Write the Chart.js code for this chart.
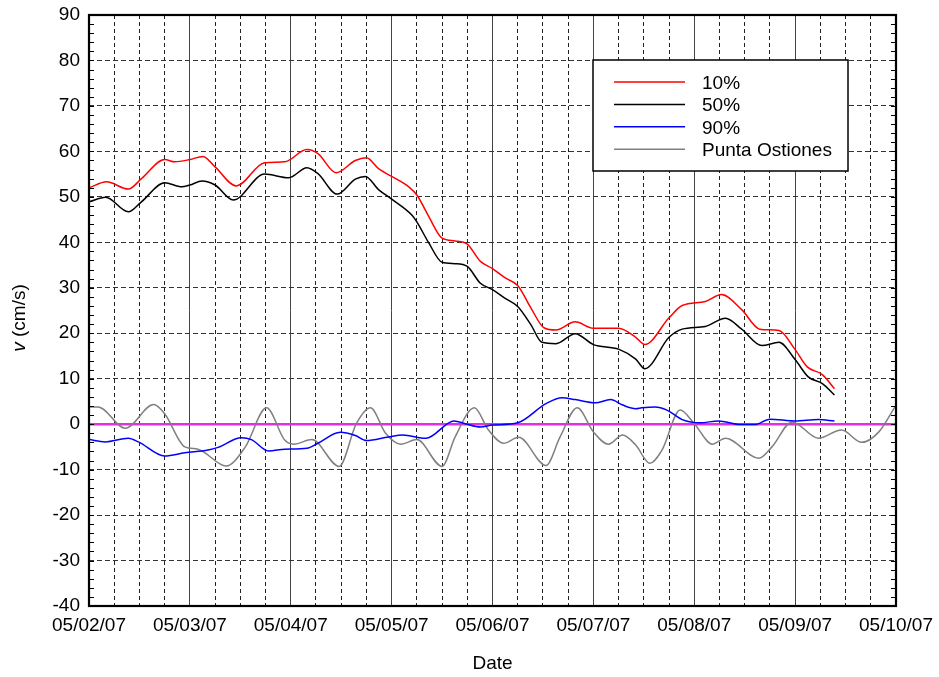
<!DOCTYPE html>
<html>
<head>
<meta charset="utf-8">
<script src="https://cdn.jsdelivr.net/npm/chart.js@4.4.1/dist/chart.umd.min.js"></script>
<style>
  html, body { margin: 0; padding: 0; background: #fff; }
</style>
</head>
<body>
<canvas id="chart" width="939" height="677"></canvas>
<script>
// x values are days after 05/02/07
const dateLabels = ['05/02/07', '05/03/07', '05/04/07', '05/05/07', '05/06/07', '05/07/07', '05/08/07', '05/09/07', '05/10/07'];

const p10Days = [0, 0.175, 0.39, 0.52, 0.75, 0.85, 1.0, 1.13, 1.25, 1.46, 1.74, 1.94, 2.16, 2.27, 2.45, 2.64, 2.75, 2.87, 3.0, 3.17, 3.25, 3.37, 3.5, 3.63, 3.75, 3.88, 4.0, 4.13, 4.25, 4.38, 4.51, 4.63, 4.82, 5.0, 5.25, 5.42, 5.51, 5.75, 5.88, 6.11, 6.27, 6.47, 6.65, 6.84, 7.0, 7.12, 7.27, 7.39];
const p10Values = [52.0, 53.3, 51.7, 54.0, 58.2, 57.7, 58.2, 58.9, 56.6, 52.4, 57.5, 57.7, 60.4, 59.5, 55.3, 58.0, 58.6, 56.2, 54.5, 52.2, 50.4, 45.6, 40.9, 40.3, 39.6, 35.8, 34.2, 32.1, 30.5, 25.6, 21.2, 20.7, 22.5, 21.1, 21.1, 19.1, 17.5, 23.4, 26.1, 27.0, 28.5, 25.2, 20.9, 20.6, 16.4, 12.6, 10.9, 7.8];

const p50Days = [0, 0.165, 0.39, 0.52, 0.75, 0.92, 1.0, 1.12, 1.25, 1.43, 1.74, 1.98, 2.16, 2.27, 2.46, 2.64, 2.74, 2.87, 3.0, 3.2, 3.25, 3.37, 3.5, 3.63, 3.75, 3.88, 4.0, 4.13, 4.25, 4.38, 4.49, 4.63, 4.82, 5.0, 5.25, 5.42, 5.51, 5.75, 5.88, 6.11, 6.31, 6.47, 6.67, 6.84, 7.0, 7.13, 7.27, 7.39];
const p50Values = [48.9, 49.9, 46.7, 48.9, 53.1, 52.2, 52.6, 53.5, 52.6, 49.3, 55.0, 54.2, 56.4, 55.1, 50.6, 53.9, 54.5, 51.6, 49.5, 46.0, 44.5, 39.8, 35.6, 35.3, 34.7, 31.0, 29.6, 27.6, 25.9, 21.9, 18.0, 17.7, 19.9, 17.5, 16.5, 14.3, 12.2, 19.1, 20.9, 21.5, 23.3, 20.9, 17.3, 18.0, 14.2, 10.4, 8.9, 6.4];

const p90Days = [0, 0.16, 0.39, 0.49, 0.75, 0.95, 1.18, 1.28, 1.51, 1.61, 1.78, 1.94, 2.16, 2.27, 2.49, 2.64, 2.75, 2.97, 3.11, 3.34, 3.62, 3.73, 3.88, 4.0, 4.25, 4.53, 4.69, 4.82, 5.02, 5.17, 5.29, 5.42, 5.48, 5.61, 5.73, 5.88, 6.06, 6.24, 6.46, 6.6, 6.75, 7.0, 7.23, 7.39];
const p90Values = [-3.4, -3.9, -3.1, -3.9, -7.0, -6.3, -5.7, -5.1, -3.0, -3.4, -5.9, -5.5, -5.3, -4.2, -1.8, -2.5, -3.6, -2.8, -2.4, -3.1, 0.7, 0.1, -0.6, -0.2, 0.3, 4.5, 5.8, 5.4, 4.7, 5.4, 4.2, 3.4, 3.6, 3.8, 3.1, 1.0, 0.3, 0.7, -0.1, -0.1, 1.1, 0.7, 1.0, 0.7];

const ostionesDays = [0, 0.09, 0.36, 0.64, 0.75, 0.95, 1.08, 1.36, 1.55, 1.76, 1.94, 2.03, 2.21, 2.48, 2.65, 2.79, 2.94, 3.09, 3.25, 3.5, 3.63, 3.82, 3.96, 4.11, 4.26, 4.53, 4.67, 4.84, 5.0, 5.15, 5.29, 5.42, 5.56, 5.68, 5.86, 6.0, 6.18, 6.31, 6.64, 6.77, 6.97, 7.23, 7.46, 7.66, 7.83, 8.0];
const ostionesValues = [3.8, 3.8, -0.9, 4.3, 2.3, -5.0, -5.5, -9.2, -5.0, 3.6, -3.5, -4.4, -3.4, -9.3, 0.1, 3.6, -2.0, -4.4, -3.4, -9.3, -2.8, 3.6, -1.3, -4.2, -2.9, -9.1, -2.8, 3.6, -1.7, -4.4, -2.4, -4.6, -8.6, -5.7, 3.1, 0.1, -4.4, -3.1, -7.5, -5.0, 0.5, -3.1, -1.3, -4.0, -1.7, 4.2];

const zeroDays = [0, 8];
const zeroValues = [0, 0];

const seriesNames = ['10%', '50%', '90%', 'Punta Ostiones'];

function points(xs, ys) {
    return xs.map((x, i) => ({ x: x, y: ys[i] }));
}

Chart.defaults.font.family = '"Liberation Sans", Arial, sans-serif';
Chart.defaults.font.size = 19;
Chart.defaults.color = '#000';

const framePlugin = {
    id: 'frame',
    afterDraw(chart) {
        const { ctx, chartArea: a, scales } = chart;
        ctx.save();

        // inward minor ticks on both y borders
        ctx.strokeStyle = '#000';
        ctx.lineWidth = 1;
        for (let v = scales.y.min; v <= scales.y.max; v += 2) {
            const py = Math.round(scales.y.getPixelForValue(v)) + 0.5;
            ctx.beginPath();
            ctx.moveTo(a.left, py);
            ctx.lineTo(a.left + 5, py);
            ctx.moveTo(a.right, py);
            ctx.lineTo(a.right - 5, py);
            ctx.stroke();
        }

        // box round the plot
        ctx.lineWidth = 2.2;
        ctx.strokeRect(a.left, a.top, a.right - a.left, a.bottom - a.top);

        // legend box
        const lx = 593, ly = 60, lw = 255, lh = 111;
        ctx.fillStyle = '#fff';
        ctx.fillRect(lx, ly, lw, lh);
        ctx.lineWidth = 1.5;
        ctx.strokeStyle = '#000';
        ctx.strokeRect(lx, ly, lw, lh);
        ctx.font = '19px "Liberation Sans", Arial, sans-serif';
        ctx.textBaseline = 'alphabetic';
        ctx.textAlign = 'left';
        chart.data.datasets.slice(0, 4).forEach((ds, i) => {
            const y = 82 + i * 22.4;
            ctx.strokeStyle = ds.borderColor;
            ctx.lineWidth = 1.5;
            ctx.beginPath();
            ctx.moveTo(614, y);
            ctx.lineTo(685, y);
            ctx.stroke();
            ctx.fillStyle = '#000';
            ctx.fillText(ds.label, 702, y + 7);
        });

        // y title with italic v
        ctx.translate(25, 318);
        ctx.rotate(-Math.PI / 2);
        ctx.fillStyle = '#000';
        ctx.font = 'italic 19px "Liberation Sans", Arial, sans-serif';
        const vW = ctx.measureText('v').width;
        ctx.font = '19px "Liberation Sans", Arial, sans-serif';
        const restW = ctx.measureText(' (cm/s)').width;
        const x0 = -(vW + restW) / 2;
        ctx.font = 'italic 19px "Liberation Sans", Arial, sans-serif';
        ctx.fillText('v', x0, 0);
        ctx.font = '19px "Liberation Sans", Arial, sans-serif';
        ctx.fillText(' (cm/s)', x0 + vW, 0);
        ctx.restore();
    }
};

const ctx = document.getElementById('chart');
new Chart(ctx, {
    type: 'line',
    data: {
        datasets: [{
            label: seriesNames[0],
            data: points(p10Days, p10Values),
            borderColor: '#ff0000',
            borderWidth: 1.5
        }, {
            label: seriesNames[1],
            data: points(p50Days, p50Values),
            borderColor: '#000000',
            borderWidth: 1.5
        }, {
            label: seriesNames[2],
            data: points(p90Days, p90Values),
            borderColor: '#0000ff',
            borderWidth: 1.5
        }, {
            label: seriesNames[3],
            data: points(ostionesDays, ostionesValues),
            borderColor: '#808080',
            borderWidth: 1.5
        }, {
            label: 'zero',
            data: points(zeroDays, zeroValues),
            borderColor: '#e030e0',
            borderWidth: 2.5
        }]
    },
    options: {
        responsive: false,
        animation: false,
        events: [],
        layout: { padding: { top: 15, right: 43, left: 0, bottom: 0 } },
        elements: {
            point: { radius: 0 },
            line: { cubicInterpolationMode: 'monotone', fill: false }
        },
        plugins: {
            legend: { display: false },
            tooltip: { enabled: false }
        },
        scales: {
            x: {
                type: 'linear',
                min: 0,
                max: 8,
                afterFit: s => {
                    s.height = 71;
                    s.paddingLeft = 0;
                    s.paddingRight = 0;
                },
                ticks: {
                    stepSize: 0.25,
                    maxTicksLimit: 100,
                    autoSkip: false,
                    maxRotation: 0,
                    padding: 8,
                    callback: v => Number.isInteger(v) ? dateLabels[v] : ''
                },
                grid: {
                    drawTicks: false,
                    color: ctx => (ctx.tick && Number.isInteger(ctx.tick.value)) ? '#444' : '#222',
                    lineWidth: 1
                },
                border: {
                    display: false,
                    dash: ctx => (ctx.tick && Number.isInteger(ctx.tick.value)) ? [] : [4, 3]
                },
                title: {
                    display: true,
                    text: 'Date',
                    padding: { top: 0, bottom: 2 }
                }
            },
            y: {
                min: -40,
                max: 90,
                afterFit: s => {
                    s.width = 89;
                    s.paddingTop = 0;
                    s.paddingBottom = 0;
                },
                ticks: {
                    stepSize: 10,
                    padding: 9
                },
                grid: {
                    drawTicks: false,
                    color: '#333',
                    lineWidth: 1
                },
                border: {
                    display: false,
                    dash: [5, 3]
                }
            }
        }
    },
    plugins: [framePlugin]
});
</script>
</body>
</html>
